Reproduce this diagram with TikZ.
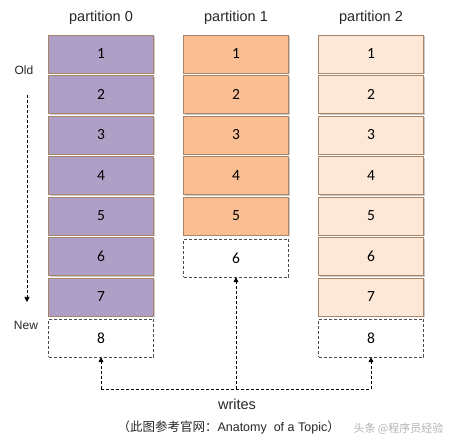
\documentclass[tikz,border=0pt]{standalone}
\usepackage{fontspec}
\setmainfont{Liberation Sans}
\newfontfamily\numfont{Carlito}
\newfontfamily\cjk{Noto Sans CJK SC}
\usetikzlibrary{arrows.meta,shadows}
\definecolor{purp}{HTML}{AE9FC7}
\definecolor{orng}{HTML}{F9BF93}
\definecolor{pch}{HTML}{FDE7D6}
\definecolor{bord}{HTML}{A88468}
\tikzset{
  cell/.style={draw=bord, line width=0.6pt, minimum width=105pt, minimum height=38pt,
    inner sep=0pt, font=\numfont\fontsize{15.5}{15.5}\selectfont,
    drop shadow={shadow xshift=1.5pt, shadow yshift=-1.5pt, opacity=0.35, fill=black!60}},
  empty/.style={draw=black!70, dashed, dash pattern=on 3pt off 2pt, line width=0.5pt,
    minimum width=105pt, minimum height=38pt, inner sep=0pt, fill=white,
    font=\numfont\fontsize{15.5}{15.5}\selectfont},
  title/.style={font=\fontsize{14.5}{14.5}\selectfont, text=black!85},
  lbl/.style={font=\fontsize{12}{12}\selectfont, text=black!85},
  warrow/.style={draw=black, line width=0.7pt, dash pattern=on 3pt off 2pt, -{Triangle[length=5pt,width=5pt]}},
  wline/.style={draw=black, line width=0.7pt, dash pattern=on 3pt off 2pt}
}
\begin{document}
\begin{tikzpicture}[x=1pt,y=-1pt]
\useasboundingbox (0,0) rectangle (456,446);
% titles
\node[title] (t0) at (101,18) {partition 0};
\node[title] (t1) at (236,18) {partition 1};
\node[title] (t2) at (371,18) {partition 2};
% partition 0
\foreach \i in {1,...,7} {
  \node[cell, fill=purp] (a\i) at (101,{54+(\i-1)*40.5}) {\i};
}
\node[empty] (a8) at (101,338) {8};
% partition 1
\foreach \i in {1,...,5} {
  \node[cell, fill=orng] (b\i) at (236,{54+(\i-1)*40.5}) {\i};
}
\node[empty] (b6) at (236,258) {6};
% partition 2
\foreach \i in {1,...,7} {
  \node[cell, fill=pch] (c\i) at (371,{54+(\i-1)*40.5}) {\i};
}
\node[empty] (c8) at (371,338) {8};
% Old / New
\node[lbl] (old) at (24,70) {Old};
\node[lbl] (new) at (26,325) {New};
\coordinate (os) at (27,95);
\coordinate (oe) at (27,302);
\draw[warrow] (os) -- (oe);
% writes
\coordinate (w0) at (101,389);
\coordinate (w1) at (236,389);
\coordinate (w2) at (371,389);
\draw[wline] (w0) -- (w2);
\draw[warrow] (w0) -- (a8.south);
\draw[warrow] (w1) -- (b6.south);
\draw[warrow] (w2) -- (c8.south);
\node[title] (wr) at (237,404) {writes};
\node[font=\fontsize{12.5}{12.5}\selectfont, text=black!85, anchor=west] (cap) at (114,427) {{\cjk （此图参考官网：}Anatomy\ \ of a Topic{\cjk ）}};
\node[font=\cjk\fontsize{11}{11}\selectfont, text=black!30, anchor=west] (wm) at (350,429) {头条 @程序员经验};
\end{tikzpicture}
\end{document}
